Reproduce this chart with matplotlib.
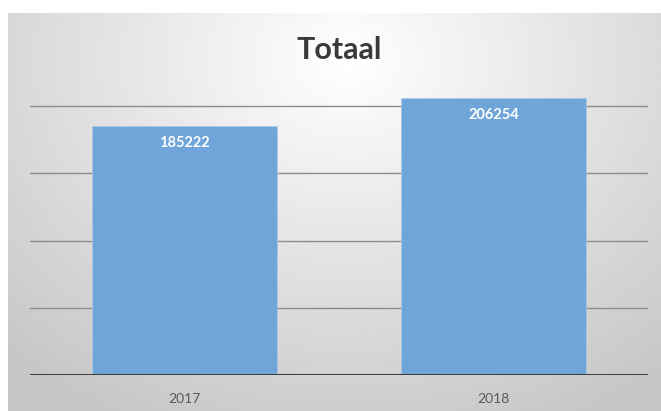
import numpy as np
import matplotlib
matplotlib.use("Agg")
from matplotlib import pyplot as plt

years = ["2017", "2018"]
totals = [185222, 206254]
grid_values = [50000, 100000, 150000, 200000]

W, H = 661, 411
fig = plt.figure(figsize=(W / 100, H / 100), dpi=100)
fig.patch.set_facecolor("white")

# chart area background: soft radial gradient, frame starts a bit in from the left/top
bg = fig.add_axes([8 / W, 0, 1 - 8 / W, 1 - 13 / H])
yy, xx = np.mgrid[0:1:300j, 0:1:300j]
r = np.sqrt(((xx - 0.52) / 0.75) ** 2 + ((yy - 0.12) / 1.0) ** 2)
shade = np.clip(1.0 - 0.22 * r, 0.78, 1.0)
bg.imshow(shade, cmap="gray", vmin=0, vmax=1, aspect="auto",
          extent=[0, 1, 1, 0], interpolation="bilinear")
bg.axis("off")

# plot area
y_top = 215000
ax = fig.add_axes([30 / W, 36 / H, 618 / W, (375 - 86) / H])
ax.patch.set_alpha(0)
ax.set_xlim(-0.5, 1.5)
ax.set_ylim(0, y_top)

for g in grid_values:
    ax.axhline(g, color="#8c8c8c", lw=1.0, zorder=1)

bars = ax.bar(range(len(years)), totals, width=0.6, color="#6fa5d8",
              edgecolor="#a9c9ea", linewidth=0.6, zorder=2)
ax.axhline(0, color="#3f3f3f", lw=2.2, zorder=3)

for i, v in enumerate(totals):
    ax.annotate(str(v), (i, v), xytext=(0, -12.5), textcoords="offset points",
                ha="center", va="center", color="white", fontweight="bold",
                fontsize=10.5, family="Lato", zorder=4)

ax.set_xticks(range(len(years)))
ax.set_xticklabels(years, family="Lato", fontsize=10, color="#595959")
ax.tick_params(axis="x", length=0, pad=13)
ax.set_yticks([])
for s in ax.spines.values():
    s.set_visible(False)

fig.text(339 / W, 1 - 50 / H, "Totaal", ha="center", va="center",
         fontsize=22, fontweight="bold", family="Lato", color="#3a3a3a")

fig.savefig("out.png", dpi=100)
